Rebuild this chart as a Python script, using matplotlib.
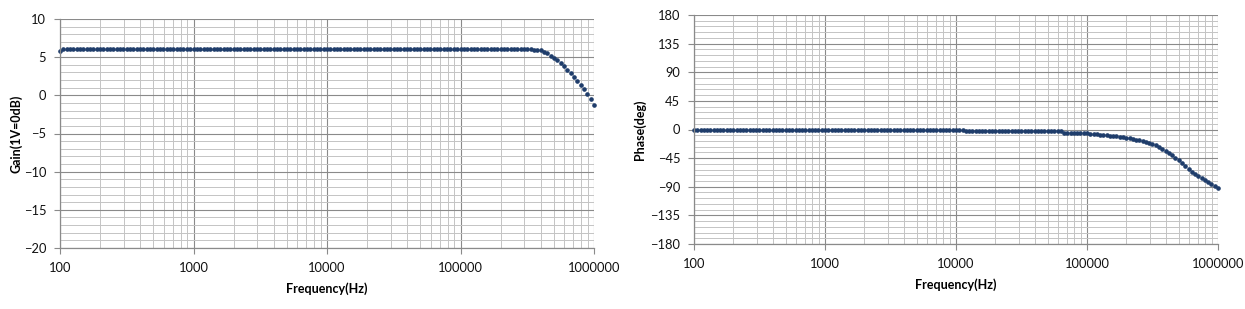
import matplotlib
matplotlib.use("Agg")
import matplotlib.pyplot as plt
from matplotlib.ticker import LogLocator, MultipleLocator, FixedLocator, NullFormatter

plt.rcParams["font.family"] = ["Lato", "DejaVu Sans"]

# ---- data (40 points / decade sweep) ----
freq_hz = [
    100, 105.9, 112.2, 118.9, 125.9, 133.4, 141.3, 149.6, 158.5, 167.9,
    177.8, 188.4, 199.5, 211.3, 223.9, 237.1, 251.2, 266.1, 281.8, 298.5,
    316.2, 335.0, 354.8, 375.8, 398.1, 421.7, 446.7, 473.2, 501.2, 530.9,
    562.3, 595.7, 631.0, 668.3, 707.9, 749.9, 794.3, 841.4, 891.3, 944.1,
    1000, 1059, 1122, 1189, 1259, 1334, 1413, 1496, 1585, 1679,
    1778, 1884, 1995, 2113, 2239, 2371, 2512, 2661, 2818, 2985,
    3162, 3350, 3548, 3758, 3981, 4217, 4467, 4732, 5012, 5309,
    5623, 5957, 6310, 6683, 7079, 7499, 7943, 8414, 8913, 9441,
    10000, 10590, 11220, 11890, 12590, 13340, 14130, 14960, 15850, 16790,
    17780, 18840, 19950, 21130, 22390, 23710, 25120, 26610, 28180, 29850,
    31620, 33500, 35480, 37580, 39810, 42170, 44670, 47320, 50120, 53090,
    56230, 59570, 63100, 66830, 70790, 74990, 79430, 84140, 89130, 94410,
    100000, 105900, 112200, 118900, 125900, 133400, 141300, 149600, 158500, 167900,
    177800, 188400, 199500, 211300, 223900, 237100, 251200, 266100, 281800, 298500,
    316200, 335000, 354800, 375800, 398100, 421700, 446700, 473200, 501200, 530900,
    562300, 595700, 631000, 668300, 707900, 749900, 794300, 841400, 891300, 944100,
    1000000,
]

gain_db = (
    [5.85] + [6.02] * 39          # 100 Hz .. 1 kHz
    + [6.02] * 40                 # 1 kHz .. 10 kHz
    + [6.02] * 40                 # 10 kHz .. 100 kHz
    + [6.02] * 21                 # 100 kHz .. 316 kHz
    + [6.01, 5.99, 5.95, 5.88, 5.72, 5.50, 5.20, 4.93, 4.58, 4.22,
       3.80, 3.38, 2.92, 2.42, 1.92, 1.40, 0.82, 0.22, -0.50, -1.27]
)

phase_deg = (
    [0.0] * 40
    + [0.0] * 40
    + [0.0] * 3 + [-1.6] * 22 + [-3.0] * 8 + [-4.8] * 7
    + [-6.0, -6.5, -7.0, -7.5, -8.0, -8.5, -9.0, -9.5, -10.2, -10.8,
       -11.5, -12.3, -13.0, -14.0, -15.0, -16.0, -17.0, -18.2, -19.2, -20.5,
       -22.5, -24.5, -27.0, -30.0, -33.5, -37.0, -40.5, -44.5, -48.5, -53.0,
       -58.0, -62.5, -66.5, -70.0, -73.5, -76.8, -80.0, -83.2, -86.2, -89.2,
       -92.0]
)

x_ticks = [100, 1000, 10000, 100000, 1000000]
x_labels = ["100", "1000", "10000", "100000", "1000000"]
gain_ticks = [10, 5, 0, -5, -10, -15, -20]
phase_ticks = [180, 135, 90, 45, 0, -45, -90, -135, -180]

DOT = "#1f3d6b"
MAJ = "#8a8a8a"
MIN = "#c4c4c4"


def style(ax, yticks, ymin, ymax, yminor, ylabel, ypad):
    ax.set_xscale("log")
    ax.set_xlim(100, 1e6)
    ax.set_ylim(ymin, ymax)
    ax.xaxis.set_major_locator(FixedLocator(x_ticks))
    ax.set_xticklabels(x_labels)
    ax.xaxis.set_minor_locator(LogLocator(base=10, subs=range(2, 10), numticks=20))
    ax.xaxis.set_minor_formatter(NullFormatter())
    ax.set_yticks(yticks)
    ax.yaxis.set_minor_locator(MultipleLocator(yminor))
    ax.grid(True, which="major", color=MAJ, lw=0.8)
    ax.grid(True, which="minor", color=MIN, lw=0.7)
    ax.set_axisbelow(True)
    for s in ("top", "right"):
        ax.spines[s].set_visible(False)
    for s in ("left", "bottom"):
        ax.spines[s].set_color(MAJ)
        ax.spines[s].set_linewidth(0.9)
    ax.tick_params(which="major", length=4, color=MAJ, labelsize=9.3, labelcolor="#111111", pad=6)
    ax.tick_params(which="minor", length=0)
    ax.set_xlabel("Frequency(Hz)", fontsize=9, fontweight="bold", labelpad=6)
    ax.set_ylabel(ylabel, fontsize=9, fontweight="bold", labelpad=ypad)


fig = plt.figure(figsize=(12.45, 3.09), dpi=100)
ax1 = fig.add_axes([60 / 1245, 1 - 248 / 309, 534 / 1245, 229 / 309])
ax2 = fig.add_axes([694 / 1245, 1 - 244 / 309, 524 / 1245, 229 / 309])

ax1.plot(freq_hz, gain_db, "o", ms=2.3, color=DOT, mec=DOT, clip_on=False)
style(ax1, gain_ticks, -20, 10, 1, "Gain(1V=0dB)", 1)

ax2.plot(freq_hz, phase_deg, "o", ms=2.3, color=DOT, mec=DOT, clip_on=False)
style(ax2, phase_ticks, -180, 180, 9, "Phase(deg)", 3)

fig.savefig("out.png", dpi=100, facecolor="white")
